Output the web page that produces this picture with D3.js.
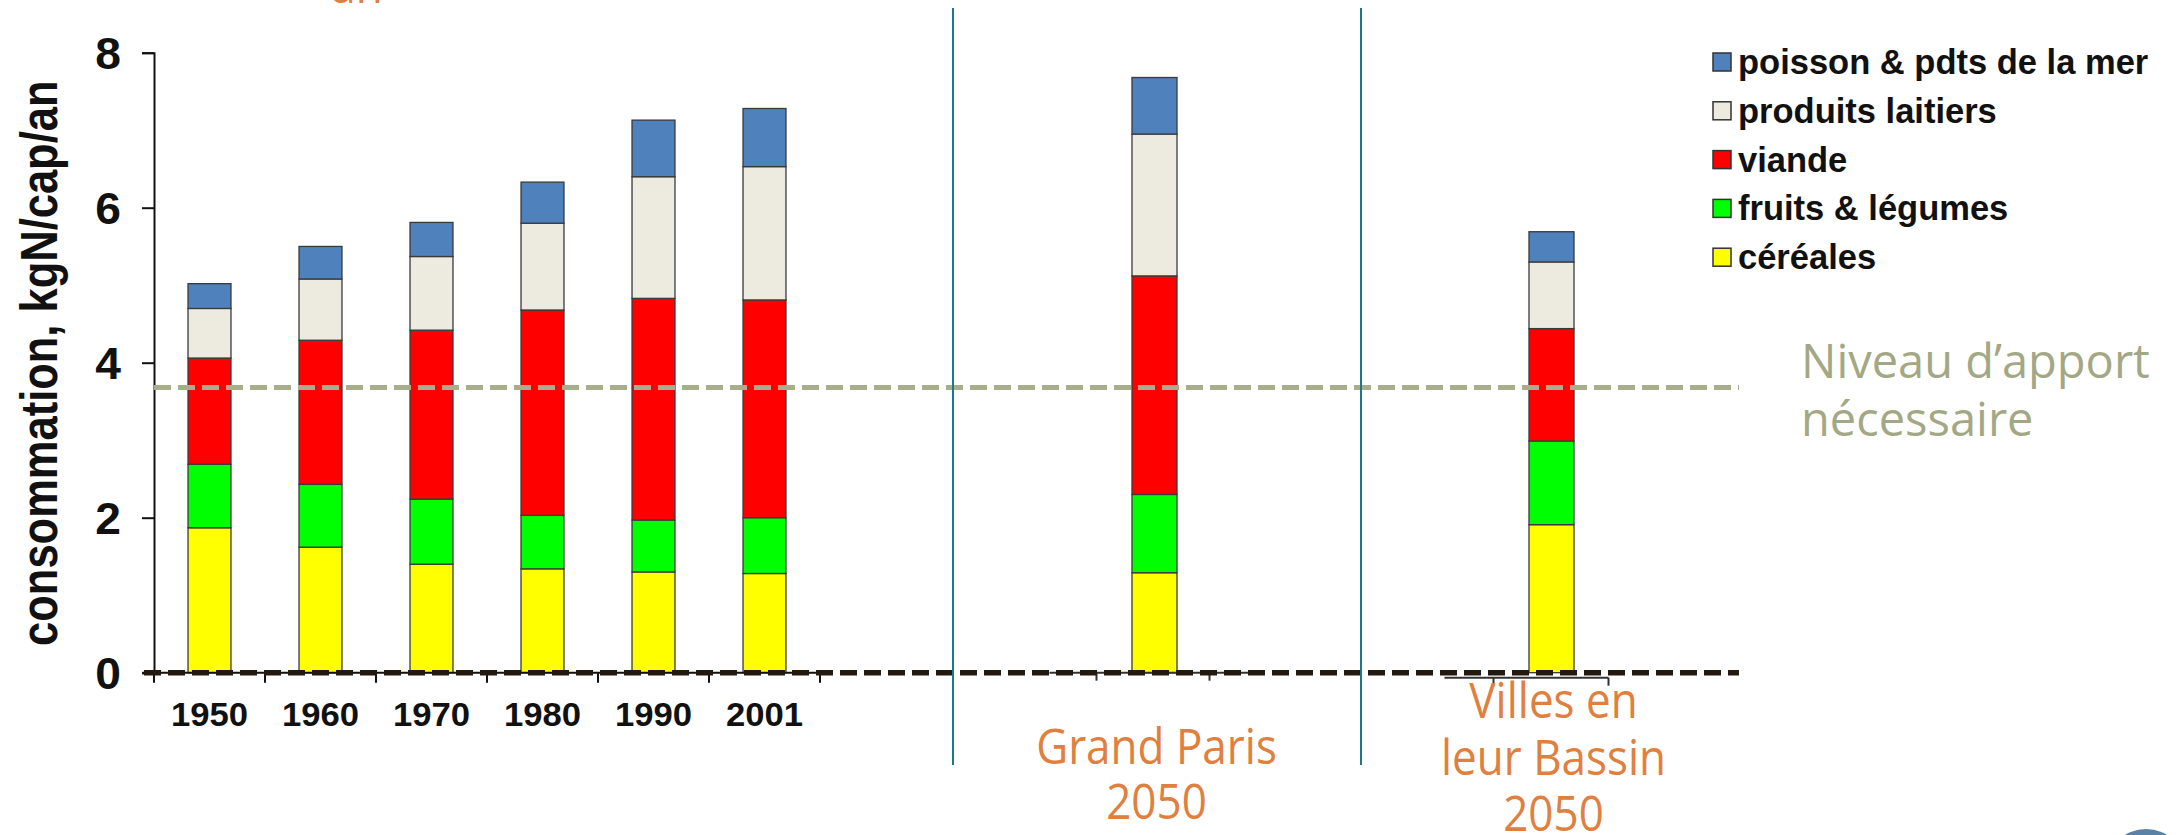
<!DOCTYPE html>
<html lang="fr">
<head>
<meta charset="utf-8">
<title>Consommation d'azote par habitant</title>
<script src="https://cdn.jsdelivr.net/npm/d3@7"></script>
<style>
  html, body { margin: 0; padding: 0; background: #ffffff; }
  svg { display: block; }
</style>
</head>
<body>
<div id="chart"></div>
<script>
// Categories: historical years, then the two 2050 scenarios
const years = ["1950", "1960", "1970", "1980", "1990", "2001"];
const scenarios = ["Grand Paris\n2050", "Villes en\nleur Bassin\n2050"];
const categories = years.concat(scenarios);

// Nitrogen intake per food group, kgN/cap/an (same order as categories)
const cereales = [1.87, 1.62, 1.40, 1.34, 1.30, 1.28, 1.29, 1.91];
const fruitsLegumes = [0.82, 0.81, 0.84, 0.69, 0.67, 0.72, 1.01, 1.08];
const viande = [1.37, 1.86, 2.18, 2.65, 2.86, 2.81, 2.82, 1.45];
const produitsLaitiers = [0.64, 0.79, 0.95, 1.12, 1.57, 1.72, 1.83, 0.86];
const poisson = [0.32, 0.42, 0.44, 0.53, 0.73, 0.75, 0.73, 0.39];

// Series, bottom to top of the stack
const seriesKeys = ["cereales", "fruits", "viande", "laitiers", "poisson"];
const seriesLabels = {
  poisson: "poisson & pdts de la mer",
  laitiers: "produits laitiers",
  viande: "viande",
  fruits: "fruits & légumes",
  cereales: "céréales"
};
const legendOrder = ["poisson", "laitiers", "viande", "fruits", "cereales"];
const seriesColors = {
  cereales: "#ffff00",
  fruits: "#00ff00",
  viande: "#ff0000",
  laitiers: "#edebe0",
  poisson: "#4f81bd"
};

const yTicks = [0, 2, 4, 6, 8];
const requiredLevel = 3.68;
const yTitle = "consommation, kgN/cap/an";
const levelLabel = ["Niveau d\u2019apport", "nécessaire"];

// ---- layout ----
const W = 2179, H = 835;
const y0px = 672.7, y8px = 52.7;
const axisX = 154;

const rows = categories.map((c, i) => ({
  cat: c,
  cereales: cereales[i],
  fruits: fruitsLegumes[i],
  viande: viande[i],
  laitiers: produitsLaitiers[i],
  poisson: poisson[i]
}));

const svg = d3.select("#chart").append("svg")
  .attr("width", W).attr("height", H)
  .attr("viewBox", `0 0 ${W} ${H}`);

svg.append("rect").attr("width", W).attr("height", H).attr("fill", "#ffffff");

const y = d3.scaleLinear().domain([0, 8]).range([y0px, y8px]);

const xHist = d3.scaleBand().domain(years)
  .range([axisX, 820]).paddingInner(0.613).paddingOuter(0.3065);
const xScen = d3.scaleBand().domain(scenarios)
  .range([956, 1750]).paddingInner(0.8866).paddingOuter(0.4433);

const xPos = c => years.includes(c) ? xHist(c) : xScen(c);
const xWidth = c => years.includes(c) ? xHist.bandwidth() : xScen.bandwidth();

const stacked = d3.stack().keys(seriesKeys)(rows);

const FONT = "'Liberation Sans', Arial, Helvetica, sans-serif";
const SLIDE_FONT = "'Open Sans', 'DejaVu Sans', sans-serif";

// ---- stacked bars ----
const barsG = svg.append("g").attr("class", "bars");
stacked.forEach(layer => {
  barsG.append("g")
    .attr("fill", seriesColors[layer.key])
    .selectAll("rect")
    .data(layer)
    .join("rect")
    .attr("x", d => xPos(d.data.cat))
    .attr("width", d => xWidth(d.data.cat))
    .attr("y", d => y(d[1]))
    .attr("height", d => y(d[0]) - y(d[1]))
    .attr("stroke", "#3a3a3a")
    .attr("stroke-width", 1.3);
});

// ---- y axis ----
const yAxis = svg.append("g")
  .attr("transform", `translate(${axisX},0)`)
  .call(d3.axisLeft(y).tickValues(yTicks).tickSize(12).tickPadding(22).tickFormat(d3.format("d")));
yAxis.select(".domain").attr("stroke", "#111").attr("stroke-width", 2);
yAxis.selectAll(".tick line").attr("stroke", "#111").attr("stroke-width", 2);
yAxis.selectAll(".tick text")
  .attr("x", null)
  .attr("transform", "translate(-33,0) scale(1.05,1)")
  .attr("dy", "0.36em")
  .attr("fill", "#111")
  .style("font-family", FONT)
  .style("font-weight", "bold")
  .style("font-size", "44px");

// ---- x axis for the historical years (ticks at band edges) ----
const edges = years.map(c => xHist(c) - (xHist.step() - xHist.bandwidth()) / 2)
  .concat([xHist(years[years.length - 1]) + xHist.bandwidth() + (xHist.step() - xHist.bandwidth()) / 2]);
const xAxisG = svg.append("g").attr("class", "x-axis");
xAxisG.append("line")
  .attr("x1", axisX - 12).attr("x2", edges[edges.length - 1])
  .attr("y1", y(0)).attr("y2", y(0))
  .attr("stroke", "#111").attr("stroke-width", 2);
xAxisG.selectAll("line.tick")
  .data(edges)
  .join("line")
  .attr("class", "tick")
  .attr("x1", d => d).attr("x2", d => d)
  .attr("y1", y(0)).attr("y2", y(0) + 10)
  .attr("stroke", "#111").attr("stroke-width", 2);

xAxisG.selectAll("text.year")
  .data(years)
  .join("text")
  .attr("class", "year")
  .attr("transform", d => `translate(${xHist(d) + xHist.bandwidth() / 2},726) scale(1.05,1)`)
  .attr("text-anchor", "middle")
  .attr("fill", "#111")
  .style("font-family", FONT)
  .style("font-weight", "bold")
  .style("font-size", "33px")
  .text(d => d);

// small base segments under each scenario bar
const scenSeg = [
  { cat: scenarios[0], left: -105, right: 107, yOff: 0, ticks: [-58, 55] },
  { cat: scenarios[1], left: -107, right: 57, yOff: 5, ticks: [-58, 57] }
];
scenSeg.forEach(s => {
  const cx = xScen(s.cat) + xScen.bandwidth() / 2;
  const g = svg.append("g").attr("stroke", "#333").attr("stroke-width", 2);
  g.append("line")
    .attr("x1", cx + s.left).attr("x2", cx + s.right)
    .attr("y1", y(0) + s.yOff).attr("y2", y(0) + s.yOff);
  s.ticks.forEach(t => g.append("line")
    .attr("x1", cx + t).attr("x2", cx + t)
    .attr("y1", y(0) + s.yOff).attr("y2", y(0) + s.yOff + 8));
});

// ---- reference lines ----
const lineEnd = 1739;
svg.append("line")
  .attr("x1", axisX).attr("x2", lineEnd)
  .attr("y1", y(requiredLevel)).attr("y2", y(requiredLevel))
  .attr("stroke", "#a8ad8a").attr("stroke-width", 5)
  .attr("stroke-dasharray", "17,7");

svg.append("line")
  .attr("x1", axisX - 10).attr("x2", lineEnd)
  .attr("y1", y(0)).attr("y2", y(0))
  .attr("stroke", "#221a10").attr("stroke-width", 5.5)
  .attr("stroke-dasharray", "17,7");

// ---- section dividers ----
[953, 1361].forEach(x => {
  svg.append("line")
    .attr("x1", x).attr("x2", x)
    .attr("y1", 8).attr("y2", 765)
    .attr("stroke", "#1a7b86").attr("stroke-width", 2);
});

// ---- y title ----
svg.append("text")
  .attr("transform", `translate(57,${(y(8) + 27 + y(0) - 26) / 2}) scale(1.2,1) rotate(-90)`)
  .attr("text-anchor", "middle")
  .attr("fill", "#111")
  .style("font-family", FONT)
  .style("font-weight", "bold")
  .style("font-size", "43.5px")
  .text(yTitle);

// ---- legend ----
const legend = svg.append("g").attr("class", "legend");
legendOrder.forEach((k, i) => {
  const base = 74 + i * 48.8;
  legend.append("rect")
    .attr("x", 1713).attr("y", base - 21)
    .attr("width", 18).attr("height", 18)
    .attr("fill", seriesColors[k])
    .attr("stroke", "#333").attr("stroke-width", 1.5);
  legend.append("text")
    .attr("x", 1738).attr("y", base)
    .attr("fill", "#111")
    .style("font-family", FONT)
    .style("font-weight", "bold")
    .style("font-size", "34.5px")
    .text(seriesLabels[k]);
});

// ---- level annotation ----
levelLabel.forEach((t, i) => {
  svg.append("text")
    .attr("x", 1801).attr("y", 378 + i * 58)
    .attr("fill", "#a3a884")
    .style("font-family", SLIDE_FONT)
    .style("font-size", "47px")
    .text(t);
});

// ---- scenario labels (orange) ----
const orange = "#e0803f";
const scenLabelPos = [
  { cat: scenarios[0], base: 764, gap: 55 },
  { cat: scenarios[1], base: 718, gap: 56.5 }
];
scenLabelPos.forEach(p => {
  const cx = xScen(p.cat) + xScen.bandwidth() / 2 + 2;
  p.cat.split("\n").forEach((line, i) => {
    svg.append("text")
      .attr("transform", `translate(${cx},${p.base + i * p.gap}) scale(1,1.1)`)
      .attr("text-anchor", "middle")
      .attr("fill", orange)
      .style("font-family", SLIDE_FONT)
      .style("font-size", "44px")
      .text(line);
  });
});

// tail of a heading running off the top edge
svg.append("text")
  .attr("x", 357).attr("y", 3)
  .attr("text-anchor", "middle")
  .attr("fill", orange)
  .style("font-family", SLIDE_FONT)
  .style("font-size", "44px")
  .text("an");

// page marker in the corner
svg.append("circle")
  .attr("cx", 2146).attr("cy", 869).attr("r", 40)
  .attr("fill", "#5a82a6");
</script>
</body>
</html>
